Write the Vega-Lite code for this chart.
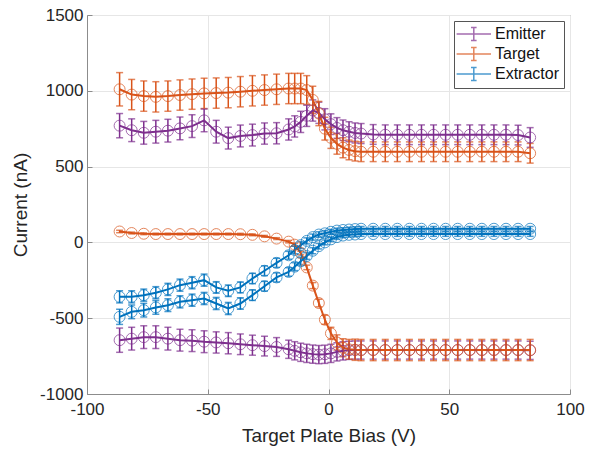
{
  "$schema": "https://vega.github.io/schema/vega-lite/v6.json",
  "width": 483,
  "height": 379,
  "autosize": "none",
  "padding": {"left": 87, "top": 15, "right": 19, "bottom": 58},
  "background": "white",
  "config": {
    "view": {"stroke": "#8c8c8c", "strokeWidth": 1},
    "axis": {
      "grid": true, "gridColor": "#e6e6e6", "domainColor": "#8c8c8c", "tickColor": "#8c8c8c",
      "labelFont": "Liberation Sans", "labelFontSize": 17, "labelColor": "#262626",
      "titleFont": "Liberation Sans", "titleFontSize": 19, "titleFontWeight": "normal", "titleColor": "#262626",
      "tickSize": -5, "labelPadding": 7
    }
  },
  "data": {"values": [
    {"s":"Emitter","c":"E1","x":-86.5,"y":770,"e":80},
    {"s":"Emitter","c":"E1","x":-81.5,"y":740,"e":75},
    {"s":"Emitter","c":"E1","x":-76.5,"y":723,"e":75},
    {"s":"Emitter","c":"E1","x":-71.5,"y":730,"e":75},
    {"s":"Emitter","c":"E1","x":-66.5,"y":737,"e":75},
    {"s":"Emitter","c":"E1","x":-61.5,"y":752,"e":75},
    {"s":"Emitter","c":"E1","x":-56.5,"y":767,"e":75},
    {"s":"Emitter","c":"E1","x":-51.5,"y":805,"e":75},
    {"s":"Emitter","c":"E1","x":-46.5,"y":730,"e":75},
    {"s":"Emitter","c":"E1","x":-41.5,"y":688,"e":72},
    {"s":"Emitter","c":"E1","x":-36.5,"y":702,"e":72},
    {"s":"Emitter","c":"E1","x":-31.5,"y":708,"e":72},
    {"s":"Emitter","c":"E1","x":-26.5,"y":718,"e":70},
    {"s":"Emitter","c":"E1","x":-21.5,"y":720,"e":70},
    {"s":"Emitter","c":"E1","x":-16.5,"y":745,"e":70},
    {"s":"Emitter","c":"E1","x":-14,"y":765,"e":70},
    {"s":"Emitter","c":"E1","x":-11.5,"y":795,"e":70},
    {"s":"Emitter","c":"E1","x":-9,"y":835,"e":70},
    {"s":"Emitter","c":"E1","x":-6.5,"y":870,"e":70},
    {"s":"Emitter","c":"E1","x":-4,"y":855,"e":70},
    {"s":"Emitter","c":"E1","x":-1.5,"y":812,"e":70},
    {"s":"Emitter","c":"E1","x":1,"y":780,"e":68},
    {"s":"Emitter","c":"E1","x":3.5,"y":755,"e":68},
    {"s":"Emitter","c":"E1","x":6,"y":740,"e":68},
    {"s":"Emitter","c":"E1","x":8.5,"y":730,"e":66},
    {"s":"Emitter","c":"E1","x":11,"y":722,"e":66},
    {"s":"Emitter","c":"E1","x":13.5,"y":718,"e":66},
    {"s":"Emitter","c":"E1","x":18.5,"y":712,"e":65},
    {"s":"Emitter","c":"E1","x":23.5,"y":710,"e":65},
    {"s":"Emitter","c":"E1","x":28.5,"y":710,"e":65},
    {"s":"Emitter","c":"E1","x":33.5,"y":710,"e":65},
    {"s":"Emitter","c":"E1","x":38.5,"y":710,"e":65},
    {"s":"Emitter","c":"E1","x":43.5,"y":710,"e":65},
    {"s":"Emitter","c":"E1","x":48.5,"y":710,"e":65},
    {"s":"Emitter","c":"E1","x":53.5,"y":710,"e":65},
    {"s":"Emitter","c":"E1","x":58.5,"y":710,"e":65},
    {"s":"Emitter","c":"E1","x":63.5,"y":710,"e":65},
    {"s":"Emitter","c":"E1","x":68.5,"y":710,"e":65},
    {"s":"Emitter","c":"E1","x":73.5,"y":710,"e":65},
    {"s":"Emitter","c":"E1","x":78.5,"y":708,"e":65},
    {"s":"Emitter","c":"E1","x":83.5,"y":692,"e":65},

    {"s":"Emitter","c":"E2","x":-86.5,"y":-645,"e":80},
    {"s":"Emitter","c":"E2","x":-81.5,"y":-635,"e":75},
    {"s":"Emitter","c":"E2","x":-76.5,"y":-625,"e":75},
    {"s":"Emitter","c":"E2","x":-71.5,"y":-625,"e":75},
    {"s":"Emitter","c":"E2","x":-66.5,"y":-635,"e":75},
    {"s":"Emitter","c":"E2","x":-61.5,"y":-645,"e":72},
    {"s":"Emitter","c":"E2","x":-56.5,"y":-648,"e":72},
    {"s":"Emitter","c":"E2","x":-51.5,"y":-655,"e":72},
    {"s":"Emitter","c":"E2","x":-46.5,"y":-660,"e":70},
    {"s":"Emitter","c":"E2","x":-41.5,"y":-665,"e":70},
    {"s":"Emitter","c":"E2","x":-36.5,"y":-672,"e":68},
    {"s":"Emitter","c":"E2","x":-31.5,"y":-678,"e":66},
    {"s":"Emitter","c":"E2","x":-26.5,"y":-684,"e":65},
    {"s":"Emitter","c":"E2","x":-21.5,"y":-690,"e":62},
    {"s":"Emitter","c":"E2","x":-16.5,"y":-705,"e":60},
    {"s":"Emitter","c":"E2","x":-14,"y":-715,"e":60},
    {"s":"Emitter","c":"E2","x":-11.5,"y":-725,"e":60},
    {"s":"Emitter","c":"E2","x":-9,"y":-732,"e":60},
    {"s":"Emitter","c":"E2","x":-6.5,"y":-737,"e":60},
    {"s":"Emitter","c":"E2","x":-4,"y":-740,"e":60},
    {"s":"Emitter","c":"E2","x":-1.5,"y":-738,"e":60},
    {"s":"Emitter","c":"E2","x":1,"y":-732,"e":60},
    {"s":"Emitter","c":"E2","x":3.5,"y":-722,"e":60},
    {"s":"Emitter","c":"E2","x":6,"y":-715,"e":60},
    {"s":"Emitter","c":"E2","x":8.5,"y":-712,"e":60},
    {"s":"Emitter","c":"E2","x":11,"y":-710,"e":60},
    {"s":"Emitter","c":"E2","x":13.5,"y":-710,"e":60},
    {"s":"Emitter","c":"E2","x":18.5,"y":-710,"e":60},
    {"s":"Emitter","c":"E2","x":23.5,"y":-710,"e":60},
    {"s":"Emitter","c":"E2","x":28.5,"y":-710,"e":60},
    {"s":"Emitter","c":"E2","x":33.5,"y":-710,"e":60},
    {"s":"Emitter","c":"E2","x":38.5,"y":-710,"e":60},
    {"s":"Emitter","c":"E2","x":43.5,"y":-710,"e":60},
    {"s":"Emitter","c":"E2","x":48.5,"y":-710,"e":60},
    {"s":"Emitter","c":"E2","x":53.5,"y":-710,"e":60},
    {"s":"Emitter","c":"E2","x":58.5,"y":-710,"e":60},
    {"s":"Emitter","c":"E2","x":63.5,"y":-710,"e":60},
    {"s":"Emitter","c":"E2","x":68.5,"y":-710,"e":60},
    {"s":"Emitter","c":"E2","x":73.5,"y":-710,"e":60},
    {"s":"Emitter","c":"E2","x":78.5,"y":-710,"e":60},
    {"s":"Emitter","c":"E2","x":83.5,"y":-712,"e":60},

    {"s":"Target","c":"T1","x":-86.5,"y":1010,"e":110},
    {"s":"Target","c":"T1","x":-81.5,"y":975,"e":100},
    {"s":"Target","c":"T1","x":-76.5,"y":965,"e":100},
    {"s":"Target","c":"T1","x":-71.5,"y":960,"e":100},
    {"s":"Target","c":"T1","x":-66.5,"y":965,"e":100},
    {"s":"Target","c":"T1","x":-61.5,"y":972,"e":100},
    {"s":"Target","c":"T1","x":-56.5,"y":978,"e":100},
    {"s":"Target","c":"T1","x":-51.5,"y":983,"e":100},
    {"s":"Target","c":"T1","x":-46.5,"y":985,"e":100},
    {"s":"Target","c":"T1","x":-41.5,"y":988,"e":100},
    {"s":"Target","c":"T1","x":-36.5,"y":994,"e":100},
    {"s":"Target","c":"T1","x":-31.5,"y":1000,"e":100},
    {"s":"Target","c":"T1","x":-26.5,"y":1005,"e":100},
    {"s":"Target","c":"T1","x":-21.5,"y":1010,"e":100},
    {"s":"Target","c":"T1","x":-16.5,"y":1015,"e":100},
    {"s":"Target","c":"T1","x":-14,"y":1015,"e":100},
    {"s":"Target","c":"T1","x":-11.5,"y":1015,"e":100},
    {"s":"Target","c":"T1","x":-9,"y":1005,"e":95},
    {"s":"Target","c":"T1","x":-6.5,"y":940,"e":90},
    {"s":"Target","c":"T1","x":-4,"y":850,"e":80},
    {"s":"Target","c":"T1","x":-1.5,"y":750,"e":75},
    {"s":"Target","c":"T1","x":1,"y":690,"e":70},
    {"s":"Target","c":"T1","x":3.5,"y":650,"e":68},
    {"s":"Target","c":"T1","x":6,"y":625,"e":66},
    {"s":"Target","c":"T1","x":8.5,"y":610,"e":65},
    {"s":"Target","c":"T1","x":11,"y":602,"e":65},
    {"s":"Target","c":"T1","x":13.5,"y":598,"e":65},
    {"s":"Target","c":"T1","x":18.5,"y":598,"e":65},
    {"s":"Target","c":"T1","x":23.5,"y":598,"e":65},
    {"s":"Target","c":"T1","x":28.5,"y":598,"e":65},
    {"s":"Target","c":"T1","x":33.5,"y":598,"e":65},
    {"s":"Target","c":"T1","x":38.5,"y":598,"e":65},
    {"s":"Target","c":"T1","x":43.5,"y":598,"e":65},
    {"s":"Target","c":"T1","x":48.5,"y":598,"e":65},
    {"s":"Target","c":"T1","x":53.5,"y":598,"e":65},
    {"s":"Target","c":"T1","x":58.5,"y":598,"e":65},
    {"s":"Target","c":"T1","x":63.5,"y":598,"e":65},
    {"s":"Target","c":"T1","x":68.5,"y":598,"e":65},
    {"s":"Target","c":"T1","x":73.5,"y":598,"e":65},
    {"s":"Target","c":"T1","x":78.5,"y":598,"e":65},
    {"s":"Target","c":"T1","x":83.5,"y":588,"e":65},

    {"s":"Target","c":"T2","x":-86.5,"y":72,"e":8},
    {"s":"Target","c":"T2","x":-81.5,"y":62,"e":6},
    {"s":"Target","c":"T2","x":-76.5,"y":57,"e":6},
    {"s":"Target","c":"T2","x":-71.5,"y":55,"e":6},
    {"s":"Target","c":"T2","x":-66.5,"y":55,"e":6},
    {"s":"Target","c":"T2","x":-61.5,"y":55,"e":6},
    {"s":"Target","c":"T2","x":-56.5,"y":55,"e":6},
    {"s":"Target","c":"T2","x":-51.5,"y":55,"e":6},
    {"s":"Target","c":"T2","x":-46.5,"y":55,"e":6},
    {"s":"Target","c":"T2","x":-41.5,"y":55,"e":6},
    {"s":"Target","c":"T2","x":-36.5,"y":54,"e":6},
    {"s":"Target","c":"T2","x":-31.5,"y":50,"e":6},
    {"s":"Target","c":"T2","x":-26.5,"y":40,"e":6},
    {"s":"Target","c":"T2","x":-21.5,"y":25,"e":6},
    {"s":"Target","c":"T2","x":-16.5,"y":5,"e":8},
    {"s":"Target","c":"T2","x":-14,"y":-15,"e":10},
    {"s":"Target","c":"T2","x":-11.5,"y":-70,"e":12},
    {"s":"Target","c":"T2","x":-9,"y":-165,"e":15},
    {"s":"Target","c":"T2","x":-6.5,"y":-285,"e":20},
    {"s":"Target","c":"T2","x":-4,"y":-400,"e":25},
    {"s":"Target","c":"T2","x":-1.5,"y":-510,"e":30},
    {"s":"Target","c":"T2","x":1,"y":-600,"e":40},
    {"s":"Target","c":"T2","x":3.5,"y":-660,"e":50},
    {"s":"Target","c":"T2","x":6,"y":-695,"e":60},
    {"s":"Target","c":"T2","x":8.5,"y":-705,"e":65},
    {"s":"Target","c":"T2","x":11,"y":-708,"e":70},
    {"s":"Target","c":"T2","x":13.5,"y":-710,"e":70},
    {"s":"Target","c":"T2","x":18.5,"y":-710,"e":70},
    {"s":"Target","c":"T2","x":23.5,"y":-710,"e":70},
    {"s":"Target","c":"T2","x":28.5,"y":-710,"e":70},
    {"s":"Target","c":"T2","x":33.5,"y":-710,"e":70},
    {"s":"Target","c":"T2","x":38.5,"y":-710,"e":70},
    {"s":"Target","c":"T2","x":43.5,"y":-710,"e":70},
    {"s":"Target","c":"T2","x":48.5,"y":-710,"e":70},
    {"s":"Target","c":"T2","x":53.5,"y":-710,"e":70},
    {"s":"Target","c":"T2","x":58.5,"y":-710,"e":70},
    {"s":"Target","c":"T2","x":63.5,"y":-710,"e":70},
    {"s":"Target","c":"T2","x":68.5,"y":-710,"e":70},
    {"s":"Target","c":"T2","x":73.5,"y":-710,"e":70},
    {"s":"Target","c":"T2","x":78.5,"y":-710,"e":70},
    {"s":"Target","c":"T2","x":83.5,"y":-710,"e":70},

    {"s":"Extractor","c":"X1","x":-86.5,"y":-359,"e":40},
    {"s":"Extractor","c":"X1","x":-81.5,"y":-359,"e":40},
    {"s":"Extractor","c":"X1","x":-76.5,"y":-348,"e":40},
    {"s":"Extractor","c":"X1","x":-71.5,"y":-332,"e":40},
    {"s":"Extractor","c":"X1","x":-66.5,"y":-310,"e":40},
    {"s":"Extractor","c":"X1","x":-61.5,"y":-282,"e":40},
    {"s":"Extractor","c":"X1","x":-56.5,"y":-266,"e":40},
    {"s":"Extractor","c":"X1","x":-51.5,"y":-249,"e":40},
    {"s":"Extractor","c":"X1","x":-46.5,"y":-297,"e":38},
    {"s":"Extractor","c":"X1","x":-41.5,"y":-319,"e":38},
    {"s":"Extractor","c":"X1","x":-36.5,"y":-297,"e":36},
    {"s":"Extractor","c":"X1","x":-31.5,"y":-238,"e":34},
    {"s":"Extractor","c":"X1","x":-26.5,"y":-187,"e":32},
    {"s":"Extractor","c":"X1","x":-21.5,"y":-135,"e":30},
    {"s":"Extractor","c":"X1","x":-16.5,"y":-85,"e":26},
    {"s":"Extractor","c":"X1","x":-14,"y":-50,"e":25},
    {"s":"Extractor","c":"X1","x":-11.5,"y":-18,"e":22},
    {"s":"Extractor","c":"X1","x":-9,"y":10,"e":20},
    {"s":"Extractor","c":"X1","x":-6.5,"y":35,"e":20},
    {"s":"Extractor","c":"X1","x":-4,"y":52,"e":18},
    {"s":"Extractor","c":"X1","x":-1.5,"y":60,"e":18},
    {"s":"Extractor","c":"X1","x":1,"y":70,"e":16},
    {"s":"Extractor","c":"X1","x":3.5,"y":78,"e":16},
    {"s":"Extractor","c":"X1","x":6,"y":82,"e":15},
    {"s":"Extractor","c":"X1","x":8.5,"y":85,"e":15},
    {"s":"Extractor","c":"X1","x":11,"y":88,"e":15},
    {"s":"Extractor","c":"X1","x":13.5,"y":90,"e":15},
    {"s":"Extractor","c":"X1","x":18.5,"y":90,"e":15},
    {"s":"Extractor","c":"X1","x":23.5,"y":90,"e":15},
    {"s":"Extractor","c":"X1","x":28.5,"y":90,"e":15},
    {"s":"Extractor","c":"X1","x":33.5,"y":90,"e":15},
    {"s":"Extractor","c":"X1","x":38.5,"y":90,"e":15},
    {"s":"Extractor","c":"X1","x":43.5,"y":90,"e":15},
    {"s":"Extractor","c":"X1","x":48.5,"y":90,"e":15},
    {"s":"Extractor","c":"X1","x":53.5,"y":90,"e":15},
    {"s":"Extractor","c":"X1","x":58.5,"y":90,"e":15},
    {"s":"Extractor","c":"X1","x":63.5,"y":90,"e":15},
    {"s":"Extractor","c":"X1","x":68.5,"y":90,"e":15},
    {"s":"Extractor","c":"X1","x":73.5,"y":90,"e":15},
    {"s":"Extractor","c":"X1","x":78.5,"y":90,"e":15},
    {"s":"Extractor","c":"X1","x":83.5,"y":90,"e":15},

    {"s":"Extractor","c":"X2","x":-86.5,"y":-491,"e":50},
    {"s":"Extractor","c":"X2","x":-81.5,"y":-458,"e":45},
    {"s":"Extractor","c":"X2","x":-76.5,"y":-447,"e":45},
    {"s":"Extractor","c":"X2","x":-71.5,"y":-429,"e":45},
    {"s":"Extractor","c":"X2","x":-66.5,"y":-414,"e":42},
    {"s":"Extractor","c":"X2","x":-61.5,"y":-392,"e":40},
    {"s":"Extractor","c":"X2","x":-56.5,"y":-381,"e":40},
    {"s":"Extractor","c":"X2","x":-51.5,"y":-370,"e":40},
    {"s":"Extractor","c":"X2","x":-46.5,"y":-403,"e":40},
    {"s":"Extractor","c":"X2","x":-41.5,"y":-436,"e":40},
    {"s":"Extractor","c":"X2","x":-36.5,"y":-403,"e":38},
    {"s":"Extractor","c":"X2","x":-31.5,"y":-348,"e":35},
    {"s":"Extractor","c":"X2","x":-26.5,"y":-289,"e":32},
    {"s":"Extractor","c":"X2","x":-21.5,"y":-231,"e":30},
    {"s":"Extractor","c":"X2","x":-16.5,"y":-195,"e":28},
    {"s":"Extractor","c":"X2","x":-14,"y":-160,"e":26},
    {"s":"Extractor","c":"X2","x":-11.5,"y":-125,"e":25},
    {"s":"Extractor","c":"X2","x":-9,"y":-90,"e":22},
    {"s":"Extractor","c":"X2","x":-6.5,"y":-55,"e":20},
    {"s":"Extractor","c":"X2","x":-4,"y":-25,"e":18},
    {"s":"Extractor","c":"X2","x":-1.5,"y":0,"e":16},
    {"s":"Extractor","c":"X2","x":1,"y":20,"e":15},
    {"s":"Extractor","c":"X2","x":3.5,"y":35,"e":15},
    {"s":"Extractor","c":"X2","x":6,"y":45,"e":15},
    {"s":"Extractor","c":"X2","x":8.5,"y":50,"e":15},
    {"s":"Extractor","c":"X2","x":11,"y":52,"e":15},
    {"s":"Extractor","c":"X2","x":13.5,"y":55,"e":15},
    {"s":"Extractor","c":"X2","x":18.5,"y":55,"e":15},
    {"s":"Extractor","c":"X2","x":23.5,"y":55,"e":15},
    {"s":"Extractor","c":"X2","x":28.5,"y":55,"e":15},
    {"s":"Extractor","c":"X2","x":33.5,"y":55,"e":15},
    {"s":"Extractor","c":"X2","x":38.5,"y":55,"e":15},
    {"s":"Extractor","c":"X2","x":43.5,"y":55,"e":15},
    {"s":"Extractor","c":"X2","x":48.5,"y":55,"e":15},
    {"s":"Extractor","c":"X2","x":53.5,"y":55,"e":15},
    {"s":"Extractor","c":"X2","x":58.5,"y":55,"e":15},
    {"s":"Extractor","c":"X2","x":63.5,"y":55,"e":15},
    {"s":"Extractor","c":"X2","x":68.5,"y":55,"e":15},
    {"s":"Extractor","c":"X2","x":73.5,"y":55,"e":15},
    {"s":"Extractor","c":"X2","x":78.5,"y":55,"e":15},
    {"s":"Extractor","c":"X2","x":83.5,"y":55,"e":15}
  ]},
  "encoding": {
    "x": {"field": "x", "type": "quantitative",
      "scale": {"domain": [-100, 100], "nice": false},
      "axis": {"values": [-100, -50, 0, 50, 100], "title": "Target Plate Bias (V)", "titlePadding": 9, "labelPadding": 12, "labelFlush": false, "labelExpr": "'' + datum.value"}},
    "y": {"field": "y", "type": "quantitative",
      "scale": {"domain": [-1000, 1500], "nice": false},
      "axis": {"values": [-1000, -500, 0, 500, 1000, 1500], "title": "Current (nA)", "titlePadding": 9, "labelPadding": 9, "labelExpr": "'' + datum.value"}},
    "color": {"field": "s", "type": "nominal", "title": null,
      "scale": {"domain": ["Emitter", "Target", "Extractor"], "range": ["#7E2F8E", "#D95319", "#0072BD"]},
      "legend": {
        "orient": "top-right", "offset": 6, "strokeColor": "#555555", "fillColor": "white", "padding": 4,
        "labelFont": "Liberation Sans", "labelFontSize": 16, "labelColor": "#111111",
        "symbolType": "M-1.3,0H3M0.85,-0.8V0.8M0.5,-0.8H1.2M0.5,0.8H1.2",
        "symbolSize": 256, "symbolStrokeWidth": 1.5, "symbolFillColor": "transparent", "rowPadding": 0, "labelOffset": 19
      }
    },
    "detail": {"field": "c"}
  },
  "layer": [
    {
      "mark": {"type": "errorbar", "ticks": {"size": 7}, "thickness": 1.5},
      "encoding": {"yError": {"field": "e"}}
    },
    {
      "mark": {"type": "line", "strokeWidth": 2}
    },
    {
      "mark": {"type": "point", "shape": "circle", "filled": false, "size": 120, "strokeWidth": 1}
    }
  ]
}
